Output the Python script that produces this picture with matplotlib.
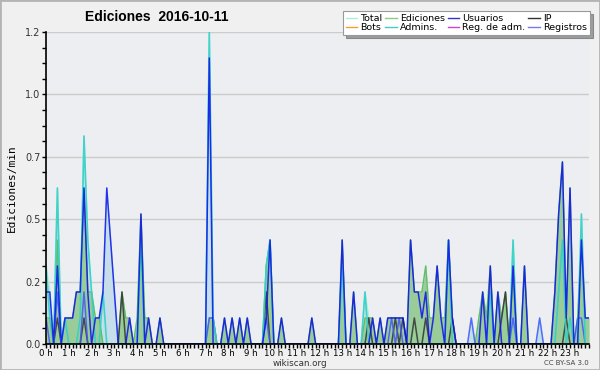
import matplotlib
matplotlib.use('Agg')
import matplotlib.pyplot as plt
from matplotlib.patches import Rectangle

plt.rcParams['font.family'] = 'DejaVu Sans'

# 10-minute bins over the day (144 points), edits per minute
total = [0.3, 0.2, 0, 0.6, 0, 0.1,
         0.1, 0.1, 0.2, 0.2, 0.8, 0.4,
         0.2, 0.1, 0.1, 0.2, 0.6, 0.4,
         0.2, 0, 0.2, 0.1, 0.1, 0,
         0.1, 0.5, 0.1, 0.1, 0, 0,
         0.1, 0, 0, 0, 0, 0,
         0, 0, 0, 0, 0, 0,
         0, 1.2, 0.1, 0, 0, 0.1,
         0, 0.1, 0, 0.1, 0, 0.1,
         0, 0, 0, 0, 0.3, 0.4,
         0, 0, 0.1, 0, 0, 0,
         0, 0, 0, 0, 0.1, 0,
         0, 0, 0, 0, 0, 0,
         0.4, 0, 0, 0.2, 0, 0,
         0.2, 0.1, 0.1, 0, 0.1, 0,
         0.1, 0.1, 0.1, 0.1, 0.1, 0,
         0.4, 0.2, 0.2, 0.2, 0.3, 0.1,
         0.1, 0.3, 0.1, 0.1, 0.4, 0.1,
         0, 0, 0, 0, 0.1, 0,
         0.1, 0.2, 0.1, 0.3, 0, 0.2,
         0.1, 0.2, 0, 0.4, 0, 0,
         0.3, 0, 0, 0, 0.1, 0,
         0, 0, 0.2, 0.5, 0.7, 0.1,
         0.6, 0, 0.1, 0.5, 0.1, 0.1]

ediciones = [0.1, 0.1, 0, 0.4, 0, 0.1,
             0.1, 0.1, 0.2, 0.2, 0.6, 0.2,
             0.2, 0.1, 0.1, 0, 0, 0,
             0, 0, 0.2, 0.1, 0.1, 0,
             0.1, 0.5, 0.1, 0.1, 0, 0,
             0.1, 0, 0, 0, 0, 0,
             0, 0, 0, 0, 0, 0,
             0, 0.1, 0.1, 0, 0, 0.1,
             0, 0.1, 0, 0.1, 0, 0.1,
             0, 0, 0, 0, 0.3, 0.4,
             0, 0, 0.1, 0, 0, 0,
             0, 0, 0, 0, 0.1, 0,
             0, 0, 0, 0, 0, 0,
             0.4, 0, 0, 0.2, 0, 0,
             0.1, 0.1, 0.1, 0, 0.1, 0,
             0.1, 0.1, 0.1, 0.1, 0.1, 0,
             0.4, 0.2, 0.2, 0.2, 0.3, 0.1,
             0.1, 0.3, 0.1, 0.1, 0.4, 0.1,
             0, 0, 0, 0, 0, 0,
             0.1, 0.2, 0.1, 0.3, 0, 0.2,
             0.1, 0.2, 0, 0.3, 0, 0,
             0.3, 0, 0, 0, 0, 0,
             0, 0, 0.2, 0.5, 0.7, 0.1,
             0.6, 0, 0.1, 0.4, 0.1, 0.1]

usuarios = [0.2, 0.2, 0, 0.3, 0, 0.1,
            0.1, 0.1, 0.2, 0.2, 0.6, 0.2,
            0, 0.1, 0.1, 0.2, 0.6, 0.4,
            0.2, 0, 0, 0, 0.1, 0,
            0, 0.5, 0, 0.1, 0, 0,
            0.1, 0, 0, 0, 0, 0,
            0, 0, 0, 0, 0, 0,
            0, 1.1, 0, 0, 0, 0.1,
            0, 0.1, 0, 0.1, 0, 0.1,
            0, 0, 0, 0, 0.1, 0.4,
            0, 0, 0.1, 0, 0, 0,
            0, 0, 0, 0, 0.1, 0,
            0, 0, 0, 0, 0, 0,
            0.4, 0, 0, 0.2, 0, 0,
            0, 0, 0.1, 0, 0.1, 0,
            0.1, 0.1, 0.1, 0.1, 0.1, 0,
            0.4, 0.2, 0.2, 0.1, 0.2, 0,
            0.1, 0.3, 0.1, 0, 0.4, 0.1,
            0, 0, 0, 0, 0, 0,
            0, 0.2, 0, 0.3, 0, 0.2,
            0, 0, 0, 0.3, 0, 0,
            0.3, 0, 0, 0, 0, 0,
            0, 0, 0.2, 0.5, 0.7, 0.1,
            0.6, 0, 0, 0.4, 0.1, 0.1]

ip = [0, 0, 0, 0.1, 0, 0,
      0, 0, 0, 0, 0.1, 0,
      0, 0, 0, 0, 0, 0,
      0, 0, 0.2, 0, 0, 0,
      0, 0, 0, 0, 0, 0,
      0, 0, 0, 0, 0, 0,
      0, 0, 0, 0, 0, 0,
      0, 0, 0, 0, 0, 0,
      0, 0, 0, 0, 0, 0,
      0, 0, 0, 0, 0.2, 0,
      0, 0, 0, 0, 0, 0,
      0, 0, 0, 0, 0, 0,
      0, 0, 0, 0, 0, 0,
      0, 0, 0, 0, 0, 0,
      0, 0.1, 0, 0, 0, 0,
      0, 0, 0.1, 0, 0.1, 0,
      0, 0.1, 0, 0, 0.1, 0,
      0, 0, 0, 0, 0, 0.1,
      0, 0, 0, 0, 0, 0,
      0, 0, 0, 0, 0, 0,
      0.1, 0.2, 0, 0, 0, 0,
      0, 0, 0, 0, 0, 0,
      0, 0, 0, 0, 0, 0.1,
      0, 0, 0, 0, 0, 0]

admins = [0.3, 0.1, 0, 0.6, 0, 0.1,
          0, 0, 0, 0.1, 0.8, 0.4,
          0.2, 0, 0, 0.2, 0, 0,
          0, 0, 0, 0, 0, 0,
          0, 0.4, 0, 0, 0, 0,
          0, 0, 0, 0, 0, 0,
          0, 0, 0, 0, 0, 0,
          0, 1.2, 0.1, 0, 0, 0,
          0, 0, 0, 0, 0, 0,
          0, 0, 0, 0, 0.3, 0.4,
          0, 0, 0, 0, 0, 0,
          0, 0, 0, 0, 0, 0,
          0, 0, 0, 0, 0, 0,
          0.3, 0, 0, 0, 0, 0,
          0.2, 0, 0, 0, 0, 0,
          0, 0, 0, 0, 0, 0,
          0, 0, 0, 0, 0, 0,
          0, 0, 0, 0, 0.4, 0,
          0, 0, 0, 0, 0, 0,
          0, 0, 0, 0.2, 0, 0,
          0, 0, 0, 0.4, 0, 0,
          0, 0, 0, 0, 0, 0,
          0, 0, 0, 0.2, 0.4, 0,
          0.1, 0, 0, 0.5, 0, 0]

registros = [0.1, 0, 0, 0.2, 0, 0,
             0, 0, 0, 0, 0.2, 0,
             0, 0, 0, 0, 0, 0,
             0, 0, 0, 0, 0, 0,
             0, 0, 0, 0, 0, 0,
             0, 0, 0, 0, 0, 0,
             0, 0, 0, 0, 0, 0,
             0, 0.1, 0.1, 0, 0, 0,
             0, 0, 0, 0, 0, 0,
             0, 0, 0, 0, 0.1, 0,
             0, 0, 0, 0, 0, 0,
             0, 0, 0, 0, 0, 0,
             0, 0, 0, 0, 0, 0,
             0, 0, 0, 0, 0, 0,
             0, 0, 0, 0, 0, 0,
             0, 0.1, 0, 0.1, 0, 0,
             0, 0, 0, 0, 0, 0,
             0, 0, 0, 0, 0, 0,
             0, 0, 0, 0, 0.1, 0,
             0, 0, 0, 0, 0, 0,
             0, 0, 0, 0.1, 0, 0,
             0, 0, 0, 0, 0.1, 0,
             0, 0, 0, 0, 0, 0,
             0, 0, 0.1, 0.1, 0, 0]

bots = [0] * 144
reg_adm = [0] * 144

hour_labels = ["%d h" % h for h in range(24)]
y_ticks = [0, 0.24, 0.48, 0.72, 0.96, 1.2]
y_labels = ["0.0", "0.2", "0.5", "0.7", "1.0", "1.2"]

x = list(range(144))

fig = plt.figure(figsize=(6, 3.7), dpi=100, facecolor='#f0f0f0')
fig.patches.append(Rectangle((0, 0), 1, 1, transform=fig.transFigure,
                             fill=False, edgecolor='#b4b4b4', linewidth=2))
ax = fig.add_axes([0.0767, 0.0703, 0.905, 0.8432])
ax.set_facecolor('#eceef1')

ax.fill_between(x, total, color='#c6deea', linewidth=0)
ax.fill_between(x, ediciones, color='#99cc99', linewidth=0)

ax.plot(x, total, color='#aaeedd', lw=1)
ax.plot(x, ediciones, color='#66bb66', lw=1)
ax.plot(x, bots, color='#ff9933', lw=1)
ax.plot(x, reg_adm, color='#cc44cc', lw=1)
ax.plot(x, ip, color='#333333', lw=1.1, alpha=0.85)
ax.plot(x, registros, color='#4455ff', lw=1.1, alpha=0.85)
ax.plot(x, admins, color='#33d0c8', lw=1.2, alpha=0.9)
ax.plot(x, usuarios, color='#1010ee', lw=1.1, alpha=0.85)

ax.set_xlim(0, 143)
ax.set_ylim(0, 1.2)
ax.set_xticks(range(0, 144, 6))
ax.set_xticklabels(hour_labels, fontsize=6.2)
ax.set_xticks(range(144), minor=True)
ax.set_yticks(y_ticks)
ax.set_yticklabels(y_labels, fontsize=7, color='#333333')
ax.set_yticks([i * 0.06 for i in range(21)], minor=True)
ax.tick_params(axis='both', which='both', direction='out', length=3, width=1, pad=1)
ax.tick_params(axis='x', which='both', pad=0.5)
ax.grid(axis='y', color='#cccccc', linewidth=1)
ax.set_axisbelow(True)
for s in ['top', 'right']:
    ax.spines[s].set_visible(False)
ax.spines['left'].set_linewidth(1.2)
ax.spines['bottom'].set_linewidth(1.2)

ax.set_ylabel("Ediciones/min", family='DejaVu Sans Mono', fontsize=8, labelpad=6)
fig.text(0.142, 0.955, "Ediciones  2016-10-11", fontsize=10, fontweight='bold',
         family='Liberation Sans', ha='left', va='center')
fig.text(0.5, 0.018, "wikiscan.org", fontsize=6.3, ha='center', va='center', color='#333333')
fig.text(0.982, 0.018, "CC BY-SA 3.0", fontsize=5, ha='right', va='center', color='#444444')

names = ["Total", "Bots", "Ediciones", "Admins.", "Usuarios", "Reg. de adm.", "IP", "Registros"]
colors = ['#aaeedd', '#ff9933', '#88cc88', '#44cccc', '#3333cc', '#cc44cc', '#333333', '#7777ee']
handles = [plt.Line2D([], [], color=c, lw=1) for c in colors]
leg = fig.legend(handles, names, ncol=4, loc='upper right', bbox_to_anchor=(0.983, 0.97),
                 fontsize=6.8, frameon=True, fancybox=False, shadow=True,
                 handlelength=1.2, handletextpad=0.35, columnspacing=0.3,
                 labelspacing=0.05, borderpad=0.3, borderaxespad=0)
leg.get_frame().set_edgecolor('#999999')
leg.get_frame().set_linewidth(0.8)

fig.savefig('out.png', dpi=100, facecolor=fig.get_facecolor())
